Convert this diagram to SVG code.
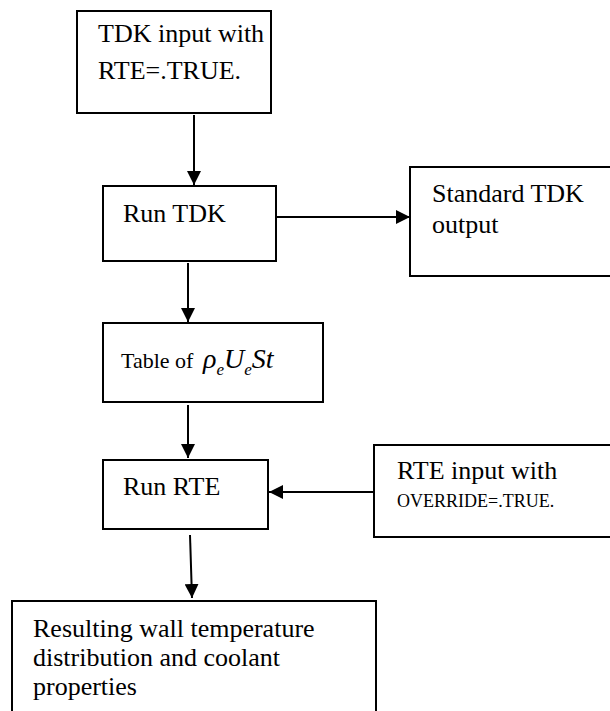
<svg xmlns="http://www.w3.org/2000/svg" width="610" height="711" viewBox="0 0 610 711">
<style>
.box{fill:#fff;stroke:#000;stroke-width:2}
.t{font-family:"Liberation Serif","Times New Roman",serif;font-size:26px;fill:#000}
.s{font-size:18px}
.m{font-family:"Liberation Serif","Times New Roman",serif;font-style:italic;fill:#000}
.c{stroke:#000;stroke-width:2;fill:none;marker-end:url(#ah)}
</style>
<defs>
<marker id="ah" markerUnits="userSpaceOnUse" markerWidth="14" markerHeight="14" viewBox="0 0 14 14" refX="14" refY="7" orient="auto">
<path d="M0,0 L14,7 L0,14 Z" fill="#000"/>
</marker>
</defs>
<rect width="610" height="711" fill="#fff"/>
<g id="connectors">
<line class="c" x1="194" y1="115" x2="194" y2="185"/>
<line class="c" x1="276" y1="217" x2="410" y2="217"/>
<line class="c" x1="188" y1="263" x2="188" y2="322"/>
<line class="c" x1="188" y1="405" x2="188" y2="458"/>
<line class="c" x1="374" y1="492" x2="269" y2="492"/>
<line class="c" x1="190" y1="535" x2="192" y2="598"/>
</g>
<g id="n1">
<rect class="box" x="77" y="11" width="194" height="102"/>
<text class="t" x="98" y="42">TDK input with</text>
<text class="t" x="98" y="79">RTE=.TRUE.</text>
</g>
<g id="n2">
<rect class="box" x="103" y="186" width="173" height="75"/>
<text class="t" x="123" y="222">Run TDK</text>
</g>
<g id="n3">
<rect class="box" x="410" y="167" width="210" height="109"/>
<text class="t" x="432" y="202">Standard TDK</text>
<text class="t" x="432" y="233">output</text>
</g>
<g id="n4">
<rect class="box" x="103" y="323" width="220" height="79"/>
<text class="t" x="121" y="368" style="font-size:22px">Table of</text>
<text class="m" x="203" y="368" style="font-size:28px">ρ<tspan dy="7" style="font-size:17px">e</tspan><tspan dy="-7">U</tspan><tspan dy="7" style="font-size:17px">e</tspan><tspan dy="-7">St</tspan></text>
</g>
<g id="n5">
<rect class="box" x="103" y="460" width="165" height="69"/>
<text class="t" x="123" y="495">Run RTE</text>
</g>
<g id="n6">
<rect class="box" x="374" y="445" width="246" height="92"/>
<text class="t" x="397" y="479">RTE input with</text>
<text class="t s" x="397" y="507">OVERRIDE=.TRUE.</text>
</g>
<g id="n7">
<rect class="box" x="12" y="601" width="364" height="120"/>
<text class="t" x="33" y="637">Resulting wall temperature</text>
<text class="t" x="33" y="666">distribution and coolant</text>
<text class="t" x="33" y="695">properties</text>
</g>
</svg>
